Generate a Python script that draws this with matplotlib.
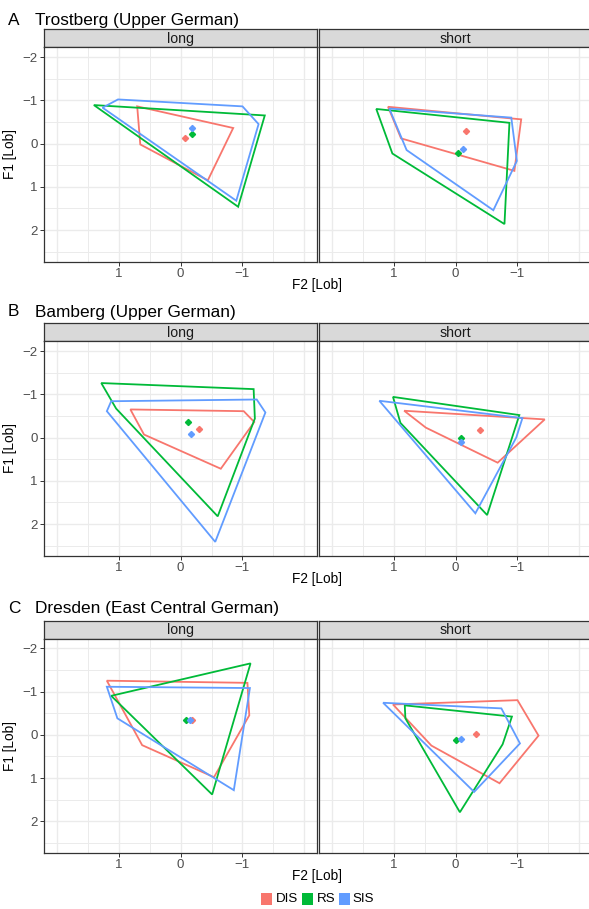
import matplotlib
matplotlib.use("Agg")
import matplotlib.pyplot as plt
from matplotlib.patches import Polygon, Rectangle

plt.rcParams['font.family'] = ['Liberation Sans', 'DejaVu Sans']

# ---- data: vowel-space hulls (F2, F1 in Lobanov units) and group means ----
groups = ["DIS", "RS", "SIS"]
colors = {"DIS": "#F8766D", "RS": "#00BA38", "SIS": "#619CFF"}
lengths = ["long", "short"]
panel_letters = ["A", "B", "C"]
site_names = ["Trostberg (Upper German)", "Bamberg (Upper German)",
              "Dresden (East Central German)"]
x_ticks = [1, 0, -1]
y_ticks = [-2, -1, 0, 1, 2]

trostberg_long_hulls = {
    "DIS": [(0.70, -0.86), (-0.85, -0.36), (-0.44, 0.85), (0.65, 0.02)],
    "RS": [(1.40, -0.89), (-1.36, -0.65), (-0.93, 1.46)],
    "SIS": [(1.26, -0.83), (1.01, -1.02), (-1.00, -0.86), (-1.26, -0.45), (-0.90, 1.32)],
}
trostberg_long_means = {"DIS": (-0.07, -0.12), "RS": (-0.18, -0.22), "SIS": (-0.18, -0.37)}

trostberg_short_hulls = {
    "DIS": [(1.09, -0.85), (-1.06, -0.56), (-0.95, 0.63), (0.88, -0.12)],
    "RS": [(1.28, -0.80), (-0.87, -0.48), (-0.79, 1.86), (1.02, 0.23)],
    "SIS": [(1.07, -0.81), (-0.90, -0.60), (-0.99, 0.40), (-0.61, 1.54), (0.79, 0.15)],
}
trostberg_short_means = {"DIS": (-0.17, -0.28), "RS": (-0.04, 0.21), "SIS": (-0.12, 0.13)}

bamberg_long_hulls = {
    "DIS": [(0.81, -0.65), (-1.02, -0.61), (-1.19, -0.36), (-0.65, 0.72), (0.59, -0.07)],
    "RS": [(1.28, -1.26), (-1.18, -1.12), (-1.20, -0.44), (-0.60, 1.82), (1.04, -0.67)],
    "SIS": [(1.12, -0.84), (-1.23, -0.88), (-1.37, -0.58), (-0.56, 2.41), (1.19, -0.61)],
}
bamberg_long_means = {"DIS": (-0.30, -0.19), "RS": (-0.12, -0.35), "SIS": (-0.17, -0.09)}

bamberg_short_hulls = {
    "DIS": [(0.83, -0.62), (-1.44, -0.42), (-0.68, 0.58), (0.48, -0.23)],
    "RS": [(1.01, -0.94), (-1.03, -0.52), (-0.51, 1.79), (0.89, -0.34)],
    "SIS": [(1.23, -0.85), (-1.08, -0.45), (-0.98, 0.00), (-0.32, 1.75)],
}
bamberg_short_means = {"DIS": (-0.40, -0.17), "RS": (-0.08, 0.00), "SIS": (-0.09, 0.10)}

dresden_long_hulls = {
    "DIS": [(1.19, -1.25), (-1.08, -1.20), (-1.11, -0.45), (-0.54, 0.98), (0.62, 0.24)],
    "RS": [(-1.13, -1.65), (-0.51, 1.38), (1.12, -0.90)],
    "SIS": [(1.19, -1.11), (-1.12, -1.08), (-0.86, 1.28), (1.02, -0.38)],
}
dresden_long_means = {"DIS": (-0.19, -0.34), "RS": (-0.09, -0.34), "SIS": (-0.16, -0.35)}

dresden_short_hulls = {
    "DIS": [(1.01, -0.70), (-1.00, -0.80), (-1.34, 0.02), (-0.71, 1.12), (0.39, 0.25)],
    "RS": [(0.82, -0.68), (-0.91, -0.42), (-0.76, 0.22), (-0.07, 1.79), (0.81, -0.38)],
    "SIS": [(1.17, -0.74), (-0.74, -0.61), (-1.04, 0.20), (-0.30, 1.32)],
}
dresden_short_means = {"DIS": (-0.33, -0.02), "RS": (-0.01, 0.11), "SIS": (-0.09, 0.09)}

panels = [
    [(trostberg_long_hulls, trostberg_long_means), (trostberg_short_hulls, trostberg_short_means)],
    [(bamberg_long_hulls, bamberg_long_means), (bamberg_short_hulls, bamberg_short_means)],
    [(dresden_long_hulls, dresden_long_means), (dresden_short_hulls, dresden_short_means)],
]

# ---- layout in pixels ----
W, H = 589, 909
fig = plt.figure(figsize=(W / 100, H / 100), dpi=100)

def add_px_axes(left, top, width, height):
    return fig.add_axes([left / W, 1 - (top + height) / H, width / W, height / H])

col_left = [44.3, 319.3]
panel_w = 272.5
strip_h = 18
panel_h = 214.2
row_strip_top = [29.3, 323.3, 620.5]
title_baseline = [25.0, 316.5, 613.3]

border = "#333333"
grid_c = "#EBEBEB"

for r in range(3):
    fig.text(8 / W, 1 - title_baseline[r] / H, panel_letters[r], fontsize=12.4,
             va="baseline", ha="left", color="black")
    fig.text(35 / W, 1 - title_baseline[r] / H, site_names[r], fontsize=12.4,
             va="baseline", ha="left", color="black")
    for c in range(2):
        top = row_strip_top[r]
        # facet strip
        sax = add_px_axes(col_left[c], top, panel_w, strip_h)
        sax.set_xlim(0, 1)
        sax.set_ylim(0, 1)
        sax.set_facecolor("#D9D9D9")
        sax.set_xticks([])
        sax.set_yticks([])
        for sp in sax.spines.values():
            sp.set_color(border)
            sp.set_linewidth(0.9)
        sax.text(0.5, 0.47, lengths[c], ha="center", va="center", fontsize=10.2,
                 color="#1A1A1A")

        ax = add_px_axes(col_left[c], top + strip_h, panel_w, panel_h)
        ax.set_xlim(2.2, -2.2)
        ax.set_ylim(2.725, -2.225)
        for v in [-2, -1.5, -1, -0.5, 0, 0.5, 1, 1.5, 2]:
            ax.axvline(v, color=grid_c, lw=1.0 if v == int(v) else 0.7, zorder=0)
        for v in [-2, -1.5, -1, -0.5, 0, 0.5, 1, 1.5, 2, 2.5]:
            ax.axhline(v, color=grid_c, lw=1.0 if v == int(v) else 0.7, zorder=0)

        hulls, means = panels[r][c]
        for g in groups:
            ax.add_patch(Polygon(hulls[g], closed=True, fill=False,
                                 edgecolor=colors[g], lw=1.3, zorder=2,
                                 joinstyle="miter"))
        for g in groups:
            mx, my = means[g]
            ax.plot([mx], [my], marker="D", markersize=3.1, color=colors[g],
                    linestyle="none", zorder=3)

        ax.set_xticks(x_ticks)
        ax.set_xticklabels(["1", "0", "\u22121"])
        if c == 0:
            ax.set_yticks(y_ticks)
            ax.set_yticklabels(["\u22122", "\u22121", "0", "1", "2"])
            ax.set_ylabel("F1 [Lob]", fontsize=9.8, color="black", labelpad=4)
        else:
            ax.set_yticks(y_ticks)
            ax.tick_params(axis="y", left=False, labelleft=False)
        ax.tick_params(length=2.7, width=0.7, color=border, labelcolor="#4D4D4D",
                       labelsize=9.5, pad=2)
        for sp in ax.spines.values():
            sp.set_color(border)
            sp.set_linewidth(0.9)
        ax.set_facecolor("white")

    # shared x-axis title for the row
    xt_y = row_strip_top[r] + strip_h + panel_h + 23.5
    fig.text(317.5 / W, 1 - xt_y / H, "F2 [Lob]", ha="center", va="center",
             fontsize=9.8, color="black")

# ---- legend ----
key_lefts = [261, 302.3, 339.3]
label_lefts = [275.5, 316.5, 352.5]
legend_cy = 898.7
for g, kl, tl in zip(groups, key_lefts, label_lefts):
    fig.patches.append(Rectangle((kl / W, 1 - (legend_cy + 6) / H), 11 / W, 12 / H,
                                 transform=fig.transFigure, facecolor=colors[g],
                                 edgecolor="none"))
    fig.text(tl / W, 1 - legend_cy / H, g, ha="left", va="center", fontsize=9.6,
             color="black")

fig.savefig("out.png", dpi=100)
